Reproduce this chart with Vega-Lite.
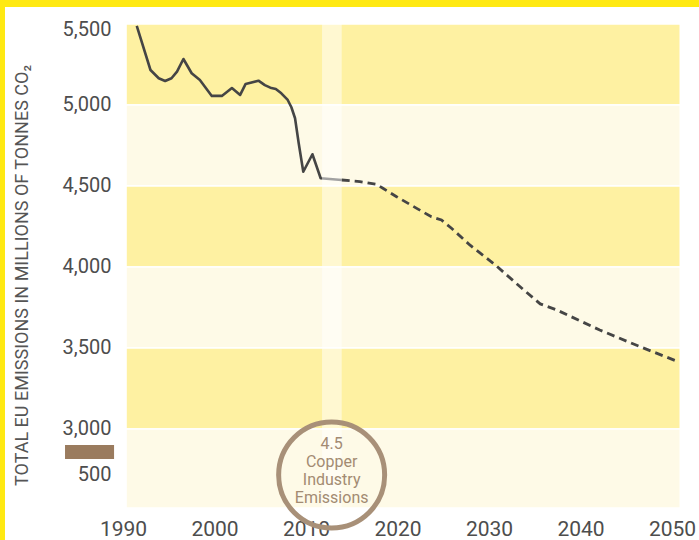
{
  "$schema": "https://vega.github.io/schema/vega-lite/v6.json",
  "autosize": {"type": "none"},
  "padding": {"left": 5, "top": 7, "right": 0, "bottom": 0},
  "width": 694,
  "height": 533,
  "background": "#FFE912",
  "config": {"view": {"fill": "white", "stroke": null}, "font": "Roboto"},
  "datasets": {
    "bands": [
      {"lo": 5000, "hi": 5500, "tone": "dark"},
      {"lo": 4500, "hi": 5000, "tone": "light"},
      {"lo": 4000, "hi": 4500, "tone": "dark"},
      {"lo": 3500, "hi": 4000, "tone": "light"},
      {"lo": 3000, "hi": 3500, "tone": "dark"},
      {"lo": 2512, "hi": 3000, "tone": "light"}
    ],
    "emissions": [
      {"year": 1991.5, "value": 5488, "kind": "actual"},
      {"year": 1993.0, "value": 5216, "kind": "actual"},
      {"year": 1993.9, "value": 5165, "kind": "actual"},
      {"year": 1994.6, "value": 5148, "kind": "actual"},
      {"year": 1995.3, "value": 5165, "kind": "actual"},
      {"year": 1995.9, "value": 5206, "kind": "actual"},
      {"year": 1996.6, "value": 5284, "kind": "actual"},
      {"year": 1997.5, "value": 5196, "kind": "actual"},
      {"year": 1998.4, "value": 5154, "kind": "actual"},
      {"year": 1999.7, "value": 5056, "kind": "actual"},
      {"year": 2000.8, "value": 5056, "kind": "actual"},
      {"year": 2001.9, "value": 5105, "kind": "actual"},
      {"year": 2002.8, "value": 5062, "kind": "actual"},
      {"year": 2003.4, "value": 5130, "kind": "actual"},
      {"year": 2004.8, "value": 5150, "kind": "actual"},
      {"year": 2005.5, "value": 5123, "kind": "actual"},
      {"year": 2006.1, "value": 5107, "kind": "actual"},
      {"year": 2006.7, "value": 5099, "kind": "actual"},
      {"year": 2007.3, "value": 5072, "kind": "actual"},
      {"year": 2008.0, "value": 5031, "kind": "actual"},
      {"year": 2008.4, "value": 4986, "kind": "actual"},
      {"year": 2008.8, "value": 4918, "kind": "actual"},
      {"year": 2009.2, "value": 4764, "kind": "actual"},
      {"year": 2009.7, "value": 4588, "kind": "actual"},
      {"year": 2010.7, "value": 4696, "kind": "actual"},
      {"year": 2011.6, "value": 4548, "kind": "actual"},
      {"year": 2013.9, "value": 4537, "kind": "actual"},
      {"year": 2013.9, "value": 4537, "kind": "projected"},
      {"year": 2015.9, "value": 4527, "kind": "projected"},
      {"year": 2017.7, "value": 4510, "kind": "projected"},
      {"year": 2018.4, "value": 4486, "kind": "projected"},
      {"year": 2019.9, "value": 4434, "kind": "projected"},
      {"year": 2022.1, "value": 4362, "kind": "projected"},
      {"year": 2023.7, "value": 4310, "kind": "projected"},
      {"year": 2024.8, "value": 4290, "kind": "projected"},
      {"year": 2025.9, "value": 4239, "kind": "projected"},
      {"year": 2027.9, "value": 4136, "kind": "projected"},
      {"year": 2030.7, "value": 4012, "kind": "projected"},
      {"year": 2033.4, "value": 3878, "kind": "projected"},
      {"year": 2035.6, "value": 3772, "kind": "projected"},
      {"year": 2037.4, "value": 3735, "kind": "projected"},
      {"year": 2042.1, "value": 3611, "kind": "projected"},
      {"year": 2046.5, "value": 3508, "kind": "projected"},
      {"year": 2050.7, "value": 3415, "kind": "projected"}
    ],
    "note": [
      {"year": 2012.8, "value": 2716, "label": "4.5\nCopper\nIndustry\nEmissions"}
    ]
  },
  "encoding": {
    "x": {
      "type": "quantitative",
      "scale": {"domain": [1977.1, 2052.95], "nice": false, "zero": false},
      "axis": {
        "orient": "bottom", "offset": -32,
        "values": [1990, 2000, 2010, 2020, 2030, 2040, 2050],
        "format": "d",
        "labelFont": "Roboto", "labelFontSize": 21, "labelColor": "#4d4d4d",
        "labelPadding": 10, "labelFlush": false, "labelOverlap": false,
        "ticks": false, "domain": false, "grid": false, "title": null
      }
    },
    "y": {
      "type": "quantitative",
      "scale": {"domain": [2314.8, 5604.9], "nice": false, "zero": false},
      "axis": {
        "orient": "left", "offset": -118,
        "values": [5465, 5000, 4500, 4000, 3500, 3000, 2722],
        "labelExpr": "datum.value < 2900 ? '500' : format(round(datum.value / 500) * 500, ',')",
        "labelFont": "Roboto", "labelFontSize": 20, "labelColor": "#4d4d4d",
        "labelPadding": 12, "labelBaseline": "middle", "labelFlush": false, "labelOverlap": false,
        "ticks": false, "domain": false, "grid": false,
        "title": "TOTAL EU EMISSIONS IN MILLIONS OF TONNES CO₂",
        "titleFont": "Roboto", "titleFontSize": 18, "titleFontWeight": "normal", "titleColor": "#555555",
        "titleAngle": -90, "titleAlign": "center", "titleBaseline": "middle",
        "titleX": -101, "titleY": 268
      }
    }
  },
  "layer": [
    {
      "data": {"name": "bands"},
      "mark": {"type": "rect", "stroke": "white", "strokeWidth": 1.5},
      "encoding": {
        "x": {"datum": 1990.33, "type": "quantitative"},
        "x2": {"datum": 2050.9},
        "y": {"field": "lo", "type": "quantitative"},
        "y2": {"field": "hi"},
        "fill": {
          "field": "tone", "type": "nominal",
          "scale": {"domain": ["dark", "light"], "range": ["#FEF1A2", "#FEFAE7"]},
          "legend": null
        }
      }
    },
    {
      "data": {"name": "emissions"},
      "transform": [{"filter": "datum.kind === 'actual'"}],
      "mark": {"type": "line", "color": "#454545", "strokeWidth": 2.6, "strokeJoin": "round"},
      "encoding": {
        "x": {"field": "year", "type": "quantitative"},
        "y": {"field": "value", "type": "quantitative"}
      }
    },
    {
      "data": {"name": "emissions"},
      "transform": [{"filter": "datum.kind === 'projected'"}],
      "mark": {"type": "line", "color": "#454545", "strokeWidth": 2.8, "strokeDash": [8, 5]},
      "encoding": {
        "x": {"field": "year", "type": "quantitative"},
        "y": {"field": "value", "type": "quantitative"}
      }
    },
    {
      "data": {"values": [{}]},
      "mark": {"type": "rect", "fill": "white", "opacity": 0.5},
      "encoding": {
        "x": {"datum": 2011.75, "type": "quantitative"},
        "x2": {"datum": 2013.9},
        "y": {"datum": 2512, "type": "quantitative"},
        "y2": {"datum": 5500}
      }
    },
    {
      "data": {"values": [{}]},
      "mark": {"type": "rect", "fill": "#9A7B5E"},
      "encoding": {
        "x": {"datum": 1983.66, "type": "quantitative"},
        "x2": {"datum": 1989.02},
        "y": {"datum": 2815, "type": "quantitative"},
        "y2": {"datum": 2901}
      }
    },
    {
      "data": {"name": "note"},
      "mark": {"type": "point", "shape": "circle", "size": 11236, "filled": false, "stroke": "#A89078", "strokeWidth": 5, "opacity": 1},
      "encoding": {
        "x": {"field": "year", "type": "quantitative"},
        "y": {"field": "value", "type": "quantitative"}
      }
    },
    {
      "data": {"name": "note"},
      "mark": {"type": "text", "font": "Roboto", "fontSize": 16, "color": "#A38B72", "align": "center", "baseline": "middle", "lineBreak": "\n", "lineHeight": 18, "dy": -31.5},
      "encoding": {
        "x": {"field": "year", "type": "quantitative"},
        "y": {"field": "value", "type": "quantitative"},
        "text": {"field": "label"}
      }
    }
  ]
}
